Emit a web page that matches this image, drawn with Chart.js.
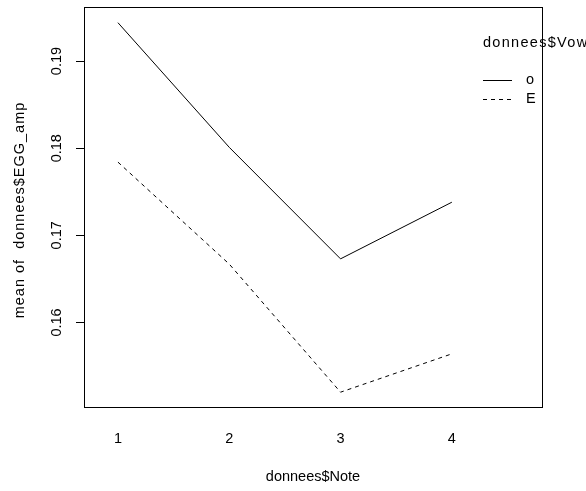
<!DOCTYPE html>
<html>
<head>
<meta charset="utf-8">
<script src="https://cdn.jsdelivr.net/npm/chart.js@4/dist/chart.umd.min.js"></script>
<style>
html,body{margin:0;padding:0;background:#fff;}
#wrap{width:586px;height:491px;position:relative;}
</style>
</head>
<body>
<div id="wrap"><canvas id="c" width="586" height="491"></canvas></div>
<script>
const categories = ["1", "2", "3", "4"];
const seriesNames = ["o", "E"];
const valuesO = [0.1944, 0.1801, 0.1673, 0.1738];
const valuesE = [0.1784, 0.1667, 0.1520, 0.1564];
const yTickValues = [0.16, 0.17, 0.18, 0.19];
const yTickLabels = ["0.16", "0.17", "0.18", "0.19"];
const xTitle = "donnees$Note";
const yTitle = "mean of  donnees$EGG_amp";
const legendTitle = "donnees$Vowel";

const FONT = "Liberation Sans, Arial, sans-serif";
const FS = 14.5;

function toPoints(vals){ return vals.map((v,i)=>({x:i+1, y:v})); }

const framePlugin = {
  id: 'frame',
  afterDraw(chart){
    const ctx = chart.ctx, a = chart.chartArea;
    const ys = chart.scales.y;
    ctx.save();
    // box
    ctx.strokeStyle = '#000'; ctx.lineWidth = 1; ctx.setLineDash([]);
    ctx.strokeRect(Math.round(a.left)+0.5, Math.round(a.top)+0.5, Math.round(a.right-a.left), Math.round(a.bottom-a.top));
    // y tick labels (rotated)
    ctx.fillStyle = '#000';
    ctx.font = FS + 'px ' + FONT;
    ctx.textAlign = 'center'; ctx.textBaseline = 'middle';
    ys.ticks.forEach((t)=>{
      const idx = yTickValues.indexOf(t.value);
      if (idx < 0) return;
      const py = ys.getPixelForValue(t.value);
      ctx.save();
      ctx.translate(57, py);
      ctx.rotate(-Math.PI/2);
      ctx.fillText(yTickLabels[idx], 0, 0);
      ctx.restore();
    });
    // y axis title
    ctx.save();
    try { ctx.letterSpacing = '1px'; } catch(e) {}
    ctx.translate(20, (a.top + a.bottom) / 2 + 3);
    ctx.rotate(-Math.PI/2);
    ctx.fillText(yTitle, 0, 0);
    ctx.restore();
    // legend
    ctx.save();
    try { ctx.letterSpacing = '1.3px'; } catch(e) {}
    ctx.textAlign = 'left';
    ctx.fillText(legendTitle, 483, 43);
    ctx.restore();
    ctx.textAlign = 'left';
    const rows = [80, 99];
    chart.data.datasets.forEach((ds, i)=>{
      ctx.beginPath();
      ctx.setLineDash(ds.borderDash || []);
      ctx.lineWidth = ds.borderWidth;
      ctx.strokeStyle = ds.borderColor;
      ctx.moveTo(483, rows[i]+0.5);
      ctx.lineTo(512, rows[i]+0.5);
      ctx.stroke();
      ctx.setLineDash([]);
      ctx.fillText(ds.label, 526, rows[i]);
    });
    ctx.restore();
  }
};

new Chart(document.getElementById('c'), {
  type: 'line',
  data: {
    datasets: [
      { label: seriesNames[0], data: toPoints(valuesO), borderColor: '#000', borderWidth: 1, pointRadius: 0, fill: false, tension: 0 },
      { label: seriesNames[1], data: toPoints(valuesE), borderColor: '#000', borderWidth: 1, borderDash: [4,4], pointRadius: 0, fill: false, tension: 0 }
    ]
  },
  options: {
    responsive: false,
    animation: false,
    devicePixelRatio: 1,
    layout: { padding: { left: 0, top: 7, right: 44, bottom: 0 } },
    plugins: { legend: { display: false }, tooltip: { enabled: false } },
    scales: {
      x: {
        type: 'linear', position: 'bottom',
        min: 0.695, max: 4.81,
        afterBuildTicks(s){ s.ticks = categories.map((c,i)=>({value:i+1})); },
        afterFit(s){ s.height = 84; },
        grid: { display: false, drawTicks: false, tickLength: 0 },
        border: { display: false },
        ticks: {
          color: '#000', font: { family: FONT, size: FS }, padding: 23,
          maxRotation: 0, autoSkip: false,
          callback: (v)=> categories[Math.round(v)-1]
        },
        title: { display: true, text: xTitle, color: '#000', font: { family: FONT, size: FS }, padding: { top: 0, bottom: 5 } }
      },
      y: {
        type: 'linear', position: 'left',
        min: 0.1503, max: 0.1962,
        afterBuildTicks(s){ s.ticks = yTickValues.map(v=>({value:v})); },
        afterFit(s){ s.width = 84; },
        grid: { display: true, drawOnChartArea: false, drawTicks: true, tickLength: 8, color: '#000', lineWidth: 1 },
        border: { display: false },
        ticks: { display: false },
        title: { display: false }
      }
    }
  },
  plugins: [framePlugin]
});
</script>
</body>
</html>
